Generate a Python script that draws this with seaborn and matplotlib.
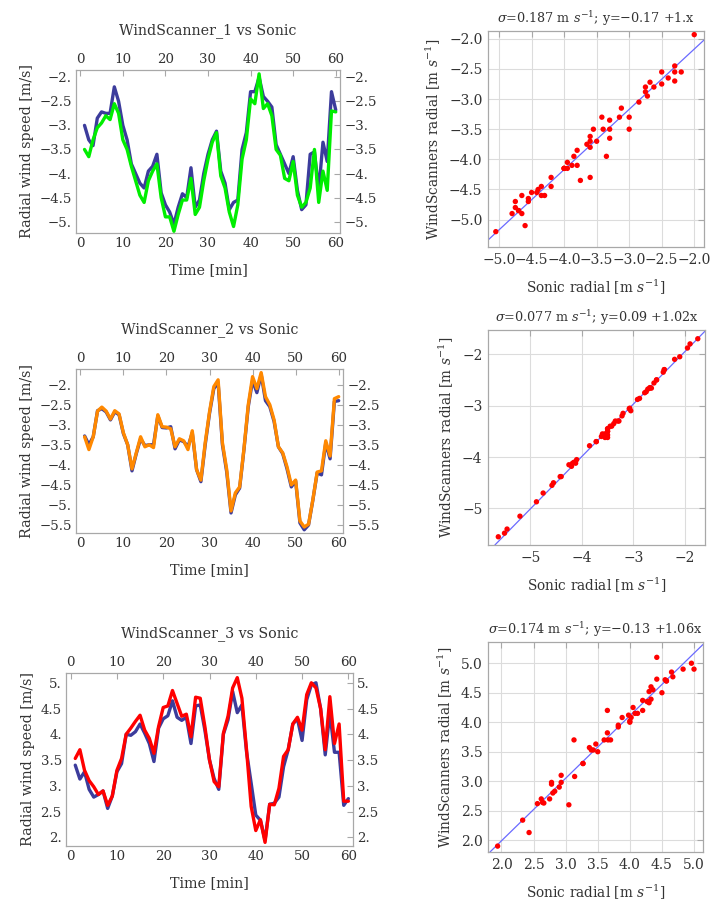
import numpy as np
import pandas as pd
import matplotlib
matplotlib.use("Agg")
import matplotlib.pyplot as plt
import seaborn as sns
from matplotlib.ticker import FuncFormatter, MultipleLocator

sns.set_theme(style="white")
plt.rcParams['font.family'] = ['DejaVu Serif']
plt.rcParams['mathtext.fontset'] = 'dejavuserif'

time_min = list(range(1, 61))

sonic_1 = [-3.0, -3.3, -3.42, -2.85, -2.72, -2.75, -2.75, -2.2, -2.5, -3.0,
           -3.3, -3.8, -4.0, -4.2, -4.3, -3.95, -3.85, -3.6, -4.4, -4.65,
           -4.8, -5.05, -4.7, -4.42, -4.5, -3.88, -4.7, -4.55, -4.0, -3.6,
           -3.3, -3.12, -3.95, -4.2, -4.75, -4.6, -4.55, -3.5, -3.15, -2.3,
           -2.3, -2.0, -2.4, -2.5, -2.62, -3.4, -3.6, -3.8, -4.0, -3.65,
           -4.35, -4.75, -4.65, -3.6, -3.55, -4.35, -3.35, -3.75, -2.3, -2.68]
ws_1 = [-3.5, -3.65, -3.3, -3.05, -2.95, -2.8, -2.88, -2.55, -2.75, -3.3,
        -3.5, -3.85, -4.15, -4.45, -4.6, -4.15, -3.95, -3.8, -4.5, -4.9,
        -4.9, -5.2, -4.85, -4.55, -4.55, -4.1, -4.85, -4.7, -4.15, -3.7,
        -3.35, -3.15, -4.05, -4.3, -4.8, -5.1, -4.65, -3.7, -3.3, -2.45,
        -2.55, -1.93, -2.65, -2.55, -2.8, -3.5, -3.62, -4.1, -4.15, -3.75,
        -4.45, -4.7, -4.6, -4.3, -3.5, -4.6, -3.95, -4.35, -2.7, -2.72]

sonic_2 = [-3.28, -3.5, -3.3, -2.65, -2.6, -2.68, -2.88, -2.68, -2.75, -3.22,
           -3.5, -4.15, -3.72, -3.35, -3.52, -3.5, -3.5, -2.78, -3.07, -3.08,
           -3.05, -3.6, -3.38, -3.42, -3.55, -3.2, -4.12, -4.42, -3.5, -2.72,
           -2.1, -1.95, -3.5, -4.18, -5.2, -4.75, -4.58, -3.62, -2.55, -1.9,
           -2.2, -1.75, -2.4, -2.55, -2.92, -3.55, -3.72, -4.1, -4.55, -4.4,
           -5.45, -5.62, -5.5, -4.88, -4.2, -4.25, -3.45, -3.85, -2.42, -2.4]
ws_2 = [-3.3, -3.62, -3.3, -2.66, -2.56, -2.66, -2.86, -2.65, -2.73, -3.2,
        -3.5, -4.1, -3.7, -3.3, -3.55, -3.5, -3.57, -2.75, -3.05, -3.06,
        -3.1, -3.55, -3.35, -3.4, -3.62, -3.15, -4.12, -4.38, -3.45, -2.68,
        -2.05, -1.88, -3.45, -4.12, -5.15, -4.7, -4.55, -3.6, -2.5, -1.8,
        -2.1, -1.7, -2.3, -2.5, -2.88, -3.55, -3.7, -4.05, -4.5, -4.38,
        -5.4, -5.55, -5.48, -4.87, -4.18, -4.15, -3.4, -3.78, -2.35, -2.3]

sonic_3 = [3.4, 3.13, 3.27, 2.93, 2.78, 2.83, 2.9, 2.56, 2.8, 3.27,
           3.43, 4.0, 3.98, 4.05, 4.2, 4.02, 3.82, 3.47, 4.12, 4.3,
           4.36, 4.65, 4.33, 4.27, 4.33, 3.82, 4.55, 4.57, 4.08, 3.5,
           3.14, 2.93, 4.0, 4.28, 4.83, 4.42, 4.57, 3.66, 3.05, 2.43,
           2.33, 1.94, 2.64, 2.66, 2.78, 3.37, 3.7, 4.2, 4.3, 3.88,
           4.67, 4.96, 5.0, 4.5, 3.6, 4.42, 3.65, 3.65, 2.62, 2.75]
ws_3 = [3.53, 3.7, 3.3, 3.1, 2.98, 2.83, 2.9, 2.62, 2.8, 3.3,
        3.53, 4.0, 4.12, 4.25, 4.37, 4.08, 3.92, 3.63, 4.15, 4.52,
        4.55, 4.85, 4.6, 4.35, 4.39, 3.95, 4.72, 4.7, 4.15, 3.5,
        3.08, 2.98, 4.02, 4.35, 4.9, 5.1, 4.7, 3.7, 2.6, 2.13,
        2.34, 1.9, 2.64, 2.63, 2.95, 3.57, 3.7, 4.2, 4.33, 4.08,
        4.77, 5.0, 4.9, 4.5, 3.7, 4.73, 3.82, 4.2, 2.7, 2.7]

panel_titles = ["WindScanner_1 vs Sonic", "WindScanner_2 vs Sonic", "WindScanner_3 vs Sonic"]
ws_colors = ["#00ee00", "#ff8800", "#ff0000"]
fit_sigma = ["0.187", "0.077", "0.174"]
fit_intercept = [-0.17, 0.09, -0.13]
fit_slope = [1.0, 1.02, 1.06]
fit_text = ["y=\u22120.17 +1.x", "y=0.09 +1.02x", "y=\u22120.13 +1.06x"]

sonic_all = [sonic_1, sonic_2, sonic_3]
ws_all = [ws_1, ws_2, ws_3]

sonic_color = "#3c3c9c"
frame_color = "#a8a8a8"
text_color = "#333333"

fig = plt.figure(figsize=(7.13, 9.0), dpi=100)

left_pos = [[76, 70, 340, 233], [76, 369, 343, 533], [66, 673, 353, 846]]
right_pos = [[488, 31, 704, 247], [488, 330, 705, 545], [488, 642, 703, 852]]
W, H = 713.0, 900.0

def to_rect(p):
    x0, y0, x1, y1 = p
    return [x0 / W, 1 - y1 / H, (x1 - x0) / W, (y1 - y0) / H]

left_ylims = [(-5.235, -1.85), (-5.70, -1.61), (1.83, 5.19)]
left_yticks = [np.arange(-5.0, -1.99, 0.5), np.arange(-5.5, -1.99, 0.5), np.arange(2.0, 5.01, 0.5)]

right_xlims = [(-5.17, -1.85), (-5.82, -1.61), (1.79, 5.14)]
right_ylims = [(-5.455, -1.87), (-5.71, -1.53), (1.80, 5.36)]
right_step = [0.5, 1.0, 0.5]

def mm_fmt(v, pos=None):
    if abs(v - round(v)) < 1e-9:
        s = f"{int(round(v))}."
    else:
        s = f"{v:.1f}"
    return s.replace("-", "\u2212")

def int_fmt(v, pos=None):
    return f"{int(round(v))}".replace("-", "\u2212")

def one_dec(v, pos=None):
    return f"{v:.1f}".replace("-", "\u2212")

fs_tick = 9.6
fs_lab = 10.3
fs_rlab = 9.9
fs_rtitle = 9.2

for i in range(3):
    df = pd.DataFrame({"t": time_min, "sonic": sonic_all[i], "ws": ws_all[i]})
    ax = fig.add_axes(to_rect(left_pos[i]))
    sns.lineplot(data=df, x="t", y="sonic", color=sonic_color, lw=2.4, ax=ax)
    sns.lineplot(data=df, x="t", y="ws", color=ws_colors[i], lw=2.4, ax=ax)
    ax.set_xlim(-1.0, 61.0)
    ax.set_ylim(*left_ylims[i])
    ax.set_xticks(np.arange(0, 61, 10))
    ax.set_yticks(left_yticks[i])
    ax.xaxis.set_major_formatter(FuncFormatter(int_fmt))
    ax.yaxis.set_major_formatter(FuncFormatter(mm_fmt))
    ax.tick_params(direction="in", length=4, width=0.8, color=frame_color,
                   top=True, right=True, labeltop=True, labelright=True,
                   labelsize=fs_tick, labelcolor=text_color, pad=3)
    for s in ax.spines.values():
        s.set_color(frame_color)
        s.set_linewidth(0.9)
    ax.set_xlabel("Time [min]", fontsize=fs_lab, color=text_color, labelpad=9)
    ax.set_ylabel("Radial wind speed [m/s]", fontsize=fs_lab, color=text_color, labelpad=4)
    ax.set_title(panel_titles[i], fontsize=fs_lab, color=text_color, pad=26)
    ax.grid(False)

    # scatter
    bx = fig.add_axes(to_rect(right_pos[i]))
    sns.scatterplot(data=df, x="sonic", y="ws", color="#ff0000", s=15,
                    edgecolor="none", ax=bx, zorder=3)
    bx.axline((0, fit_intercept[i]), slope=fit_slope[i], color="#6a6aff", lw=0.9, zorder=2)
    bx.set_xlim(*right_xlims[i])
    bx.set_ylim(*right_ylims[i])
    bx.xaxis.set_major_locator(MultipleLocator(right_step[i]))
    bx.yaxis.set_major_locator(MultipleLocator(right_step[i]))
    if right_step[i] < 1:
        bx.xaxis.set_major_formatter(FuncFormatter(one_dec))
        bx.yaxis.set_major_formatter(FuncFormatter(one_dec))
    else:
        bx.xaxis.set_major_formatter(FuncFormatter(int_fmt))
        bx.yaxis.set_major_formatter(FuncFormatter(int_fmt))
    bx.grid(True, color="#dcdcdc", lw=0.8)
    bx.set_axisbelow(True)
    bx.tick_params(direction="in", length=4, width=0.8, color=frame_color,
                   top=True, right=True, labelsize=fs_tick + 0.4, labelcolor=text_color, pad=4)
    for s in bx.spines.values():
        s.set_color(frame_color)
        s.set_linewidth(0.9)
    bx.set_xlabel(r"Sonic radial [m $s^{-1}$]", fontsize=fs_rlab, color=text_color, labelpad=8)
    bx.set_ylabel(r"WindScanners radial [m $s^{-1}$]", fontsize=fs_rlab, color=text_color, labelpad=4)
    bx.set_title(r"$\sigma$=" + fit_sigma[i] + r" m $s^{-1}$; " + fit_text[i],
                 fontsize=fs_rtitle, color=text_color, pad=6)

fig.savefig("out.png", dpi=100, facecolor="white")
